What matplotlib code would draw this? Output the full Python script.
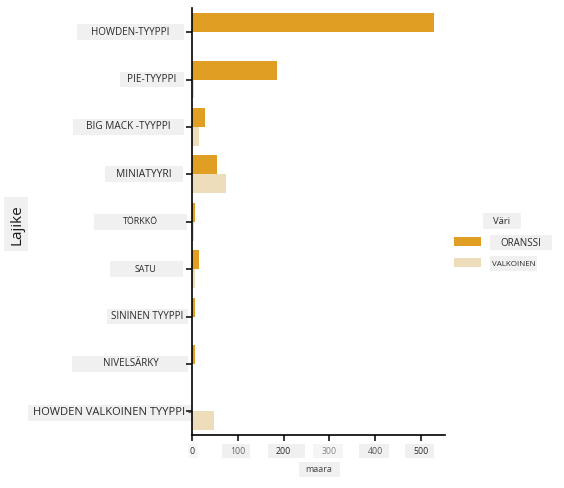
import matplotlib
matplotlib.use("Agg")
import matplotlib.pyplot as plt
import matplotlib.transforms as mtransforms
from matplotlib.patches import Rectangle
import numpy as np

# ---- data ----
categories = ["HOWDEN-TYYPPI", "PIE-TYYPPI", "BIG MACK -TYYPPI", "MINIATYYRI",
              "TÖRKKÖ", "SATU", "SININEN TYYPPI", "NIVELSÄRKY",
              "HOWDEN VALKOINEN TYYPPI -"]
oranssi = [529, 186, 28, 54, 6, 15, 6, 6, 0]
valkoinen = [0, 4, 15, 74, 4, 5, 0, 0, 47]
series_names = ["ORANSSI", "VALKOINEN"]
xticks = [0, 100, 200, 300, 400, 500]
xtick_labels = ["0", "100", "200", "300", "400", "500"]
legend_title = "Väri"
xlabel = "maara"
ylabel = "Lajike"

# ---- style ----
W, H = 564, 489
C_OR = "#E09E23"
C_WH = "#EEDDBA"
BOX = "#F0F0F0"
TXT = "#2a2a2a"
plt.rcParams['font.family'] = ['Open Sans', 'DejaVu Sans']

fig = plt.figure(figsize=(W / 100, H / 100), dpi=100)
ax = fig.add_axes([192.3 / W, 1 - 436 / H, (445 - 192.3) / W, (436 - 9.4) / H])

y = np.arange(len(categories))
ax.barh(y - 0.2, oranssi, height=0.4, color=C_OR, label=series_names[0])
ax.barh(y + 0.2, valkoinen, height=0.4, color=C_WH, label=series_names[1])
ax.set_ylim(len(categories) - 0.5, -0.5)
ax.set_xlim(0, 553)
for s in ["top", "right"]:
    ax.spines[s].set_visible(False)
for s in ["left", "bottom"]:
    ax.spines[s].set_linewidth(1.2)
ax.set_yticks(y)
ax.set_yticklabels([])
ax.set_xticks(xticks)
ax.set_xticklabels([])
ax.tick_params(length=4, width=1.1)

def fx(px):
    return px / W

def fy(py):
    return 1 - py / H

def pbox(x0, x1, y0, y1, color=BOX):
    fig.add_artist(Rectangle((fx(x0), fy(y1)), fx(x1) - fx(x0), fy(y0) - fy(y1),
                             transform=fig.transFigure, facecolor=color,
                             edgecolor="none", zorder=0))

# category labels
blend = mtransforms.blended_transform_factory(fig.transFigure, ax.transData)
cat_boxes = [(77, 184), (120, 184), (73, 184), (105, 183), (94, 187),
             (110, 183), (107, 188), (72, 188), (28, 192)]
cat_tx = [130.5, 152, 128.5, 143.5, 140, 145, 147, 130.5, 112]
cat_fs = [7.1, 7.2, 7.2, 7.4, 6.4, 6.4, 7.0, 7.0, 8.0]
for i, lab in enumerate(categories):
    x0, x1 = cat_boxes[i]
    yc = i + (0.03 if i == len(categories) - 1 else 0)
    fig.add_artist(Rectangle((fx(x0), yc - 0.165), fx(x1) - fx(x0), 0.33,
                             transform=blend, facecolor=BOX, edgecolor="none",
                             zorder=0))
    fig.text(fx(cat_tx[i]), yc - 0.02, lab, transform=blend, ha="center",
             va="center", fontsize=cat_fs[i], color=TXT)

# x tick labels
xt_boxes = [(188, 198), (222, 250), (268, 305), (313, 343), (359, 389), (405, 434)]
xt_cols = ["#F6F6F6", BOX, BOX, "#F5F5F5", BOX, BOX]
xt_txt = [TXT, "#666666", TXT, "#888888", "#555555", TXT]
blendx = mtransforms.blended_transform_factory(ax.transData, fig.transFigure)
for i, (v, lab) in enumerate(zip(xticks, xtick_labels)):
    x0, x1 = xt_boxes[i]
    pbox(x0, x1, 445, 459, xt_cols[i])
    fig.text(v, fy(452), lab, transform=blendx, ha="center", va="center",
             fontsize=6.3, color=xt_txt[i])

# x label
pbox(299, 340, 463, 478)
fig.text(fx(319), fy(470), xlabel, ha="center", va="center", fontsize=6.5,
         color="#444444")

# y label
pbox(4, 28, 198, 252)
fig.text(fx(17), fy(225), ylabel, ha="center", va="center", fontsize=11,
         rotation=90, color="#1a1a1a")

# legend
pbox(483, 521, 214, 230)
fig.text(fx(502), fy(222), legend_title, ha="center", va="center", fontsize=6.8,
         color=TXT)
leg_cols = [C_OR, C_WH]
leg_y = [242.5, 263.5]
leg_boxes = [(490, 552, 236, 251), (490, 537, 257, 272)]
leg_tx = [521, 514]
leg_fs = [7.0, 5.8]
for i, name in enumerate(series_names):
    fig.add_artist(Rectangle((fx(454), fy(leg_y[i] + 4.5)), fx(481) - fx(454),
                             fy(leg_y[i] - 4.5) - fy(leg_y[i] + 4.5),
                             transform=fig.transFigure, facecolor=leg_cols[i],
                             edgecolor="none"))
    x0, x1, y0, y1 = leg_boxes[i]
    pbox(x0, x1, y0, y1)
    fig.text(fx(leg_tx[i]), fy((y0 + y1) / 2), name, ha="center", va="center",
             fontsize=leg_fs[i], color=TXT)

fig.savefig("out.png", dpi=100)
